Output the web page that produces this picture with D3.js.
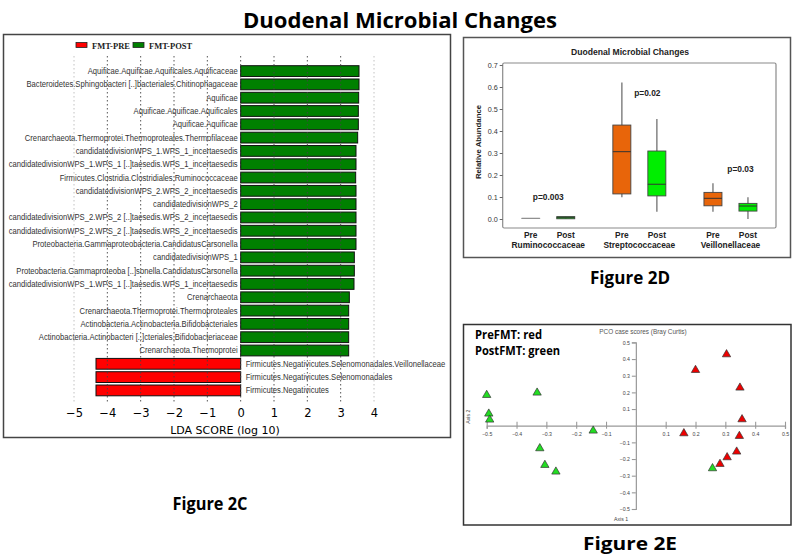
<!DOCTYPE html>
<html><head><meta charset="utf-8">
<script src="https://cdn.jsdelivr.net/npm/d3@7"></script>
<style>body{margin:0;background:#fff}svg{display:block}</style>
</head><body><svg id="c" width="800" height="554"></svg>
<script>
// ---------- Figure 2C data (LEfSe) ----------
const lefseLabels = [
  "Aquificae.Aquificae.Aquificales.Aquificaceae",
  "Bacteroidetes.Sphingobacteri [..]bacteriales.Chitinophagaceae",
  "Aquificae",
  "Aquificae.Aquificae.Aquificales",
  "Aquificae.Aquificae",
  "Crenarchaeota.Thermoprotei.Thermoproteales.Thermofilaceae",
  "candidatedivisionWPS_1.WPS_1_incertaesedis",
  "candidatedivisionWPS_1.WPS_1 [..]taesedis.WPS_1_incertaesedis",
  "Firmicutes.Clostridia.Clostridiales.Ruminococcaceae",
  "candidatedivisionWPS_2.WPS_2_incertaesedis",
  "candidatedivisionWPS_2",
  "candidatedivisionWPS_2.WPS_2 [..]taesedis.WPS_2_incertaesedis",
  "candidatedivisionWPS_2.WPS_2 [..]taesedis.WPS_2_incertaesedis",
  "Proteobacteria.Gammaproteobacteria.CandidatusCarsonella",
  "candidatedivisionWPS_1",
  "Proteobacteria.Gammaproteoba [..]sonella.CandidatusCarsonella",
  "candidatedivisionWPS_1.WPS_1 [..]taesedis.WPS_1_incertaesedis",
  "Crenarchaeota",
  "Crenarchaeota.Thermoprotei.Thermoproteales",
  "Actinobacteria.Actinobacteria.Bifidobacteriales",
  "Actinobacteria.Actinobacteri [..]cteriales.Bifidobacteriaceae",
  "Crenarchaeota.Thermoprotei",
  "Firmicutes.Negativicutes.Selenomonadales.Veillonellaceae",
  "Firmicutes.Negativicutes.Selenomonadales",
  "Firmicutes.Negativicutes"
];
const lefseScores = [3.55,3.55,3.54,3.53,3.53,3.51,3.46,3.46,3.45,3.46,3.46,3.46,3.46,3.46,3.41,3.41,3.40,3.26,3.24,3.24,3.24,3.24,-4.34,-4.34,-4.34];
const ldaTicks = [-5,-4,-3,-2,-1,0,1,2,3,4];
const legendNames = ["FMT-PRE","FMT-POST"];

// ---------- Figure 2D data (box plots) ----------
const boxFamilies = ["Ruminococcaceae","Streptococcaceae","Veillonellaceae"];
const boxConditions = ["Pre","Post"];
const boxMin    = [0.003,0.000, 0.099,0.033, 0.033,0.000];
const boxQ1     = [0.003,0.001, 0.114,0.105, 0.060,0.036];
const boxMedian = [0.003,0.006, 0.306,0.158, 0.094,0.059];
const boxQ3     = [0.003,0.011, 0.427,0.309, 0.121,0.071];
const boxMax    = [0.003,0.011, 0.621,0.455, 0.162,0.099];
const pLabels   = ["p=0.003","p=0.02","p=0.03"];
const pLabelAt  = [0.088,0.558,0.215];
const abundanceTicks = [0,0.1,0.2,0.3,0.4,0.5,0.6,0.7];

// ---------- Figure 2E data (PCO) ----------
const preX  = [0.200,0.304,0.349,0.356,0.161,0.347,0.338,0.306,0.282];
const preY  = [0.334,0.428,0.228,0.038,-0.046,-0.062,-0.156,-0.190,-0.230];
const postX = [-0.500,-0.331,-0.493,-0.490,-0.143,-0.322,-0.305,-0.268,0.257];
const postY = [0.184,0.198,0.072,0.036,-0.030,-0.136,-0.236,-0.276,-0.256];
const pcoTicks = [-0.5,-0.4,-0.3,-0.2,-0.1,0.1,0.2,0.3,0.4,0.5];

const svg = d3.select("#c");
const boldFont = "'Open Sans', sans-serif";

// Main title
svg.append("text").attr("x",400).attr("y",28).attr("text-anchor","middle")
  .attr("font-family",boldFont).attr("font-weight",700).attr("font-size",21)
  .attr("textLength",314).attr("lengthAdjust","spacingAndGlyphs")
  .text("Duodenal Microbial Changes");

// ================= Figure 2C =================
const gC = svg.append("g");
gC.append("rect").attr("x",3.5).attr("y",34.5).attr("width",447).attr("height",403)
  .attr("fill","none").attr("stroke","#444").attr("stroke-width",1.5);

const xL = d3.scaleLinear().domain([-5,4]).range([74,374]);
const yL = d3.scaleBand().domain(d3.range(lefseLabels.length)).range([64.5,397]).paddingInner(0.19).paddingOuter(0.09);

// legend
const legColors = ["#ff0000","#008000"];
const legX = [76,133];
legendNames.forEach((n,i)=>{
  gC.append("rect").attr("x",legX[i]).attr("y",42.5).attr("width",11).attr("height",5)
    .attr("fill",legColors[i]).attr("stroke","#222").attr("stroke-width",0.8);
  gC.append("text").attr("x",legX[i]+16).attr("y",48.5).attr("font-family","'Liberation Serif', serif")
    .attr("font-size",8.5).attr("font-weight",700).attr("fill","#222").text(n);
});

// bars
gC.selectAll("rect.bar").data(lefseScores).join("rect").attr("class","bar")
  .attr("x",d=>Math.min(xL(0),xL(d))).attr("width",d=>Math.abs(xL(d)-xL(0)))
  .attr("y",(d,i)=>yL(i)).attr("height",yL.bandwidth())
  .attr("fill",d=>d>0?"#008000":"#ff0000").attr("stroke","#111").attr("stroke-width",1);

// labels
const sx = 0.87;
gC.selectAll("text.lab").data(lefseLabels).join("text").attr("class","lab")
  .attr("transform",(d,i)=>{
    const pos = lefseScores[i]>0 ? xL(0)-3 : xL(0)+5;
    return `translate(${pos},${yL(i)+yL.bandwidth()/2+3}) scale(${sx},1)`;})
  .attr("text-anchor",(d,i)=>lefseScores[i]>0?"end":"start")
  .attr("font-family","'Liberation Sans', Arial, sans-serif").attr("font-size",8.8)
  .attr("fill","#333").text(d=>d);

// dotted grid
gC.selectAll("line.grid").data(ldaTicks).join("line").attr("class","grid")
  .attr("x1",d=>xL(d)).attr("x2",d=>xL(d)).attr("y1",56).attr("y2",404)
  .attr("stroke",d=>(d===-5||d===4)?"#bbb":"#444").attr("stroke-width",0.9)
  .attr("stroke-dasharray","1.5,2.5");

// axis
const axC = gC.append("g").attr("transform","translate(0,417)")
  .call(d3.axisBottom(xL).tickValues(ldaTicks).tickSize(0).tickFormat(d3.format("d")));
axC.select(".domain").remove();
axC.selectAll("text").attr("y",0).attr("dy",0)
  .attr("font-family","'DejaVu Sans', sans-serif").attr("font-size",11.5).attr("fill","#000");
gC.append("text").attr("x",225).attr("y",434).attr("text-anchor","middle")
  .attr("font-family","'DejaVu Sans', sans-serif").attr("font-size",11).text("LDA SCORE (log 10)");

gC.append("text").attr("x",210).attr("y",510).attr("text-anchor","middle")
  .attr("font-family",boldFont).attr("font-weight",700).attr("font-size",17)
  .attr("textLength",75).attr("lengthAdjust","spacingAndGlyphs").text("Figure 2C");

// ================= Figure 2D =================
const gD = svg.append("g");
gD.append("rect").attr("x",463.5).attr("y",37.5).attr("width",327).attr("height",220)
  .attr("fill","none").attr("stroke","#555").attr("stroke-width",1.5);
gD.append("text").attr("x",630).attr("y",55).attr("text-anchor","middle")
  .attr("font-family","'Liberation Sans', Arial, sans-serif").attr("font-weight",700)
  .attr("font-size",8.6).attr("fill","#222").text("Duodenal Microbial Changes");

const yD = d3.scaleLinear().domain([0,0.7]).range([219,65]);
const xFam = d3.scaleBand().domain(boxFamilies).range([502.7,776]);
const xCond = d3.scaleBand().domain(boxConditions).range([-35,35]);
gD.append("rect").attr("x",502.7).attr("y",63).attr("width",776-502.7).attr("height",228-63)
  .attr("fill","none").attr("stroke","#8a8a8a").attr("stroke-width",1.2).attr("rx",1.5);

const axD = gD.append("g").attr("transform","translate(502.7,0)")
  .call(d3.axisLeft(yD).tickValues(abundanceTicks).tickSize(3).tickPadding(2).tickFormat(d3.format(".1f")));
axD.select(".domain").remove();
axD.selectAll("line").attr("stroke","#666");
axD.selectAll("text").attr("font-family","'Liberation Sans', Arial, sans-serif").attr("font-size",7.2).attr("fill","#333");
gD.append("text").attr("transform","translate(481,142) rotate(-90)").attr("text-anchor","middle")
  .attr("font-family","'Liberation Sans', Arial, sans-serif").attr("font-weight",700).attr("font-size",7.8)
  .attr("fill","#222").text("Relative Abundance");

const boxes = [];
boxFamilies.forEach((f,fi)=>boxConditions.forEach((c,ci)=>{
  const k = fi*2+ci;
  boxes.push({f,c,min:boxMin[k],q1:boxQ1[k],med:boxMedian[k],q3:boxQ3[k],max:boxMax[k]});
}));
const bw = 18;
const cx = b => xFam(b.f)+xFam.bandwidth()/2+xCond(b.c)+xCond.bandwidth()/2;
const bg = gD.selectAll("g.box").data(boxes).join("g").attr("class","box");
bg.append("line").attr("x1",cx).attr("x2",cx).attr("y1",b=>yD(b.max)).attr("y2",b=>yD(b.min))
  .attr("stroke","#8c8c8c").attr("stroke-width",1.6);
bg.append("rect").attr("x",b=>cx(b)-bw/2).attr("width",bw)
  .attr("y",b=>yD(b.q3)).attr("height",b=>Math.max(0.01,yD(b.q1)-yD(b.q3)))
  .attr("fill",b=>b.c==="Pre"?"#e8650a":"#00ee00")
  .attr("stroke",b=>b.max-b.min<0.002?"#8c8c8c":"#444").attr("stroke-width",0.9);
bg.append("line").attr("x1",b=>cx(b)-bw/2).attr("x2",b=>cx(b)+bw/2)
  .attr("y1",b=>yD(b.med)).attr("y2",b=>yD(b.med))
  .attr("stroke",b=>b.max-b.min<0.002?"#8c8c8c":"#333").attr("stroke-width",1);

const lblFont = "'Liberation Sans', Arial, sans-serif";
gD.selectAll("text.cond").data(boxes).join("text").attr("class","cond")
  .attr("x",cx).attr("y",238).attr("text-anchor","middle").attr("font-family",lblFont)
  .attr("font-weight",700).attr("font-size",8.4).attr("fill","#222").text(b=>b.c);
gD.selectAll("text.fam").data(boxFamilies).join("text").attr("class","fam")
  .attr("x",f=>xFam(f)+xFam.bandwidth()/2).attr("y",248).attr("text-anchor","middle")
  .attr("font-family",lblFont).attr("font-weight",700).attr("font-size",8.4).attr("fill","#222").text(f=>f);
gD.selectAll("text.pv").data(pLabels).join("text").attr("class","pv")
  .attr("x",(p,i)=>xFam(boxFamilies[i])+xFam.bandwidth()/2+(i===0?0:(i===1?8:10)))
  .attr("y",(p,i)=>yD(pLabelAt[i])).attr("text-anchor","middle")
  .attr("font-family",lblFont).attr("font-weight",700).attr("font-size",8.4).attr("fill","#222").text(p=>p);

gD.append("text").attr("x",630).attr("y",284).attr("text-anchor","middle")
  .attr("font-family",boldFont).attr("font-weight",700).attr("font-size",17)
  .attr("textLength",80).attr("lengthAdjust","spacingAndGlyphs").text("Figure 2D");

// ================= Figure 2E =================
const gE = svg.append("g");
gE.append("rect").attr("x",463.5).attr("y",324.5).attr("width",327.5).attr("height",200.5)
  .attr("fill","none").attr("stroke","#333").attr("stroke-width",1.5);
gE.append("text").attr("x",475).attr("y",339).attr("font-family",boldFont).attr("font-weight",700)
  .attr("font-size",12).attr("textLength",67).attr("lengthAdjust","spacingAndGlyphs").text("PreFMT: red");
gE.append("text").attr("x",475).attr("y",355).attr("font-family",boldFont).attr("font-weight",700)
  .attr("font-size",12).attr("textLength",85).attr("lengthAdjust","spacingAndGlyphs").text("PostFMT: green");
gE.append("text").attr("x",643).attr("y",334).attr("text-anchor","middle").attr("font-family",lblFont)
  .attr("font-size",6.4).attr("fill","#555").text("PCO case scores (Bray Curtis)");

const xE = d3.scaleLinear().domain([-0.5,0.5]).range([486.7,785]);
const yE = d3.scaleLinear().domain([-0.5,0.5]).range([509,342.4]);
const axEx = gE.append("g").attr("transform",`translate(0,${yE(0)})`)
  .call(d3.axisBottom(xE).tickValues(pcoTicks).tickSize(3).tickPadding(4).tickFormat(d3.format(".1f")));
axEx.select(".domain").attr("stroke","#999").attr("stroke-width",1.2);
axEx.selectAll("line").attr("y1",-4).attr("y2",3).attr("stroke","#999").attr("stroke-width",1.1);
axEx.selectAll("text").attr("font-family",lblFont).attr("font-size",5.2).attr("fill","#444");
const axEy = gE.append("g").attr("transform",`translate(${xE(0)},0)`)
  .call(d3.axisLeft(yE).tickValues(pcoTicks).tickSize(4).tickPadding(2).tickFormat(d3.format(".1f")));
axEy.select(".domain").attr("stroke","#999").attr("stroke-width",1.2);
axEy.selectAll("line").attr("stroke","#999").attr("stroke-width",1.1);
axEy.selectAll("text").attr("font-family",lblFont).attr("font-size",5.2).attr("fill","#444");
gE.append("text").attr("x",621).attr("y",521).attr("text-anchor","middle").attr("font-family",lblFont)
  .attr("font-size",5.2).attr("fill","#444").text("Axis 1");
gE.append("text").attr("transform",`translate(470,${yE(0)-9}) rotate(-90)`).attr("text-anchor","middle")
  .attr("font-family",lblFont).attr("font-size",5.2).attr("fill","#444").text("Axis 2");

const tri = d3.symbol().type(d3.symbolTriangle).size(30);
const pts = preX.map((x,i)=>({x,y:preY[i],c:"#ee0000"}))
  .concat(postX.map((x,i)=>({x,y:postY[i],c:"#22dd22"})));
gE.selectAll("path.pt").data(pts).join("path").attr("class","pt")
  .attr("d",tri).attr("transform",d=>`translate(${xE(d.x)},${yE(d.y)})`)
  .attr("fill",d=>d.c).attr("stroke","#333").attr("stroke-width",0.7);

gE.append("text").attr("x",630).attr("y",550).attr("text-anchor","middle")
  .attr("font-family",boldFont).attr("font-weight",700).attr("font-size",17)
  .attr("textLength",94).attr("lengthAdjust","spacingAndGlyphs").text("Figure 2E");
</script></body></html>
